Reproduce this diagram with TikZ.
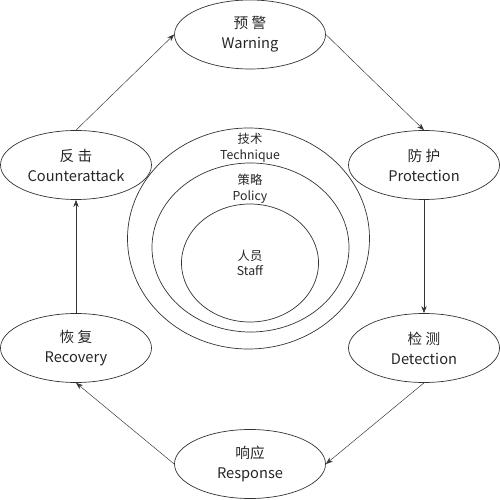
\documentclass[tikz,border=0pt]{standalone}
\usepackage{fontspec}
\setmainfont{Noto Sans CJK SC}
\usetikzlibrary{shapes.geometric,arrows.meta}

\begin{document}
\begin{tikzpicture}[x=0.03cm,y=0.03cm,
	stage/.style={ellipse,draw=black!80,line width=0.6pt,minimum width=4.53cm,
	minimum height=2.07cm,inner sep=0pt,align=center,font=\fontsize{12.5}{17}\selectfont,text=black!85},
	ring/.style={ellipse,draw=black!80,line width=0.6pt,inner sep=0pt},
	tag/.style={align=center,font=\fontsize{10.5}{13.5}\selectfont,text=black!85},
	flow/.style={-{Stealth[length=6pt,width=4.5pt]},draw=black!80,line width=0.4pt}]
	\useasboundingbox (0,0) rectangle (500,499);
	% the cycle
	\node[stage] (warn) at (250,464.5) {预 警\\Warning};
	\node[stage] (protect) at (424,334) {防 护\\Protection};
	\node[stage] (detect) at (424,151) {检 测\\Detection};
	\node[stage] (resp) at (250,35) {响应\\Response};
	\node[stage] (recov) at (76,151) {恢 复\\Recovery};
	\node[stage] (counter) at (76,334) {反 击\\Counterattack};
	\draw[flow] (counter.north) -- (warn.west);
	\draw[flow] (warn.east) -- (protect.north);
	\draw[flow] (protect.south) -- (detect.north);
	\draw[flow] (detect.south) -- (resp.east);
	\draw[flow] (resp.west) -- (recov.south);
	\draw[flow] (recov.north) -- (counter.south);
	% the rings in the middle
	\node[ring,minimum width=7.26cm,minimum height=6.63cm] (tech) at (248.5,260.5) {};
	\node[ring,minimum width=5.91cm,minimum height=5.07cm] (policy) at (250.5,251.5) {};
	\node[ring,minimum width=4.11cm,minimum height=3.54cm] (staff) at (250,236) {};
	\node[tag] (techtag) at (250,351) {技术\\Technique};
	\node[tag] (policytag) at (250,310) {策略\\Policy};
	\node[tag] (stafftag) at (staff.center) {人员\\Staff};
\end{tikzpicture}
\end{document}
